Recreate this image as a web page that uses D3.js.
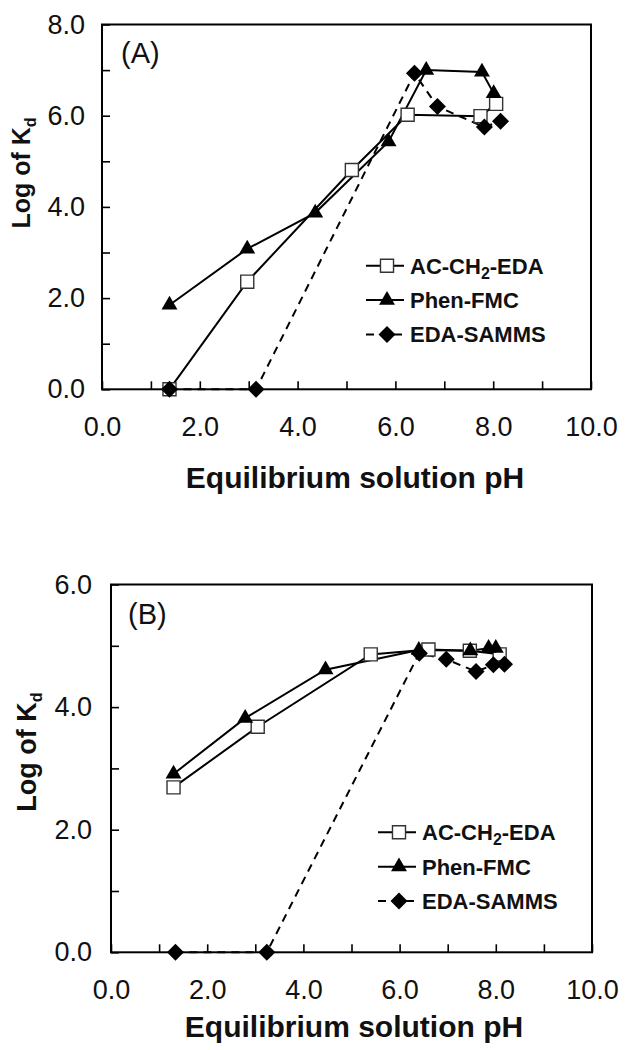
<!DOCTYPE html>
<html lang="en">
  <head>
    <meta charset="utf-8">
    <title>Log of Kd vs equilibrium pH</title>
    <script src="https://cdnjs.cloudflare.com/ajax/libs/d3/7.8.5/d3.min.js"></script>
    <style>
      body { margin: 0; background: #fff; }
      text { font-family: "Liberation Sans", Arial, sans-serif; fill: #111; }
      .title { font-weight: bold; }
    </style>
  </head>
  <body>
    <div class="chart"></div>
    <script>

      // series names (legend order)
      var seriesNames = ["AC-CH2-EDA", "Phen-FMC", "EDA-SAMMS"];

      // Panel (A)
      var acA_pH = [1.38, 2.97, 5.11, 6.25, 7.74, 8.06];
      var acA_logKd = [0.0, 2.36, 4.81, 6.02, 5.99, 6.26];
      var phenA_pH = [1.38, 2.97, 4.36, 5.86, 6.63, 7.77, 8.01];
      var phenA_logKd = [1.85, 3.08, 3.87, 5.43, 7.00, 6.96, 6.49];
      var edaA_pH = [1.38, 3.15, 6.39, 6.86, 7.82, 8.15];
      var edaA_logKd = [0.0, 0.0, 6.93, 6.20, 5.75, 5.88];

      // Panel (B)
      var acB_pH = [1.30, 3.05, 5.40, 6.60, 7.46, 8.08];
      var acB_logKd = [2.69, 3.68, 4.86, 4.94, 4.92, 4.86];
      var phenB_pH = [1.30, 2.79, 4.46, 6.40, 7.47, 7.85, 8.00];
      var phenB_logKd = [2.91, 3.82, 4.61, 4.93, 4.92, 4.96, 4.96];
      var edaB_pH = [1.34, 3.24, 6.41, 6.97, 7.59, 7.95, 8.18];
      var edaB_logKd = [0.0, 0.0, 4.88, 4.78, 4.58, 4.69, 4.70];

      // ticks
      var xTicks = [0, 1, 2, 3, 4, 5, 6, 7, 8, 9, 10];
      var yTicksA = [0, 1, 2, 3, 4, 5, 6, 7, 8];
      var yTicksB = [0, 1, 2, 3, 4, 5, 6];

      var svgWidth = 625;
      var svgHeight = 1050;

      var svg = d3.select(".chart")
        .append("svg")
        .attr("width", svgWidth)
        .attr("height", svgHeight);

      function zip(xs, ys) {
        return xs.map((x, i) => ({ x: x, y: ys[i] }));
      }

      var fmt = d3.format(".1f");

      // marker drawing: square (hollow), triangle, diamond
      function marker(sel, kind) {
        if (kind === 0) {
          sel.attr("d", d3.symbol(d3.symbolSquare, 170))
            .attr("fill", "#fff")
            .attr("stroke", "#333")
            .attr("stroke-width", 1.4);
        } else if (kind === 1) {
          sel.attr("d", d3.symbol(d3.symbolTriangle, 110))
            .attr("fill", "#000");
        } else {
          sel.attr("d", d3.symbol(d3.symbolSquare, 145))
            .attr("fill", "#000");
        }
      }

      function drawPanel(p) {
        var g = svg.append("g")
          .attr("transform", `translate(${p.left}, ${p.top})`);
        var width = p.right - p.left;
        var height = p.bottom - p.top;

        var x = d3.scaleLinear().domain([0, 10]).range([0, width]);
        var y = d3.scaleLinear().domain([0, p.yMax]).range([height, 0]);

        // axes (ticks inside, labels on even values)
        var xAxis = d3.axisBottom(x)
          .tickValues(xTicks)
          .tickSizeInner(-8)
          .tickSizeOuter(0)
          .tickPadding(28)
          .tickFormat(d => d % 2 === 0 ? fmt(d) : "");
        var yAxis = d3.axisLeft(y)
          .tickValues(p.yTicks)
          .tickSizeInner(-8)
          .tickSizeOuter(0)
          .tickPadding(p.yPad)
          .tickFormat(d => d % 2 === 0 ? fmt(d) : "");

        var gx = g.append("g")
          .attr("transform", `translate(0, ${height})`)
          .call(xAxis);
        var gy = g.append("g").call(yAxis);

        [gx, gy].forEach(a => {
          a.attr("font-size", null).attr("font-family", null);
          a.selectAll("line").attr("stroke", "#000").attr("stroke-width", 1.6);
          a.select(".domain").remove();
          a.selectAll("text").style("font-size", "27px");
        });

        // frame
        g.append("rect")
          .attr("width", width)
          .attr("height", height)
          .attr("fill", "none")
          .attr("stroke", "#000")
          .attr("stroke-width", 2);

        // series lines
        var line = d3.line().x(d => x(d.x)).y(d => y(d.y));
        p.series.forEach((s, i) => {
          g.append("path")
            .datum(s)
            .attr("d", line)
            .attr("fill", "none")
            .attr("stroke", "#000")
            .attr("stroke-width", 2)
            .attr("stroke-dasharray", i === 2 ? "8,6" : null);
        });

        // markers (diamonds drawn last, on top)
        p.series.forEach((s, i) => {
          g.selectAll(".m" + i)
            .data(s)
            .enter()
            .append("path")
            .attr("class", "m" + i)
            .attr("transform", d => `translate(${x(d.x)}, ${y(d.y)})` + (i === 2 ? " rotate(45)" : ""))
            .call(marker, i);
        });

        // panel label
        g.append("text")
          .attr("x", p.labelX - p.left)
          .attr("y", p.labelY - p.top)
          .style("font-size", "29px")
          .text(p.label);

        // legend
        var lg = g.append("g")
          .attr("transform", `translate(${p.legX - p.left}, ${p.legY - p.top})`);
        seriesNames.forEach((name, i) => {
          var row = lg.append("g").attr("transform", `translate(0, ${i * 34.4})`);
          row.append("line")
            .attr("x1", 0).attr("x2", 38)
            .attr("stroke", "#000")
            .attr("stroke-width", 2)
            .attr("stroke-dasharray", i === 2 ? "8,6" : null);
          row.append("path")
            .attr("transform", `translate(21, 0)` + (i === 2 ? " rotate(45)" : ""))
            .call(marker, i);
          var t = row.append("text")
            .attr("x", 44)
            .attr("dy", "0.36em")
            .attr("class", "title")
            .style("font-size", "22px");
          if (i === 0) {
            t.append("tspan").text("AC-CH");
            t.append("tspan").attr("dy", 5).style("font-size", "16px").text("2");
            t.append("tspan").attr("dy", -5).text("-EDA");
          } else {
            t.text(name);
          }
        });

        // axis titles
        g.append("text")
          .attr("class", "title")
          .attr("text-anchor", "middle")
          .attr("x", p.xTitleX - p.left)
          .attr("y", height + p.xTitleOff)
          .style("font-size", "30px")
          .text("Equilibrium solution pH");

        var yt = g.append("text")
          .attr("class", "title")
          .attr("text-anchor", "middle")
          .attr("transform", `translate(${p.yTitleX - p.left}, ${p.yTitleY - p.top}) rotate(-90)`)
          .style("font-size", p.yTitleSize + "px");
        yt.append("tspan").text("Log of K");
        yt.append("tspan").attr("dy", 6).style("font-size", "16px").text("d");
      }

      drawPanel({
        left: 102, right: 591, top: 24.5, bottom: 389.3,
        yMax: 8, yTicks: yTicksA, yPad: 17,
        series: [zip(acA_pH, acA_logKd), zip(phenA_pH, phenA_logKd), zip(edaA_pH, edaA_logKd)],
        label: "(A)", labelX: 121, labelY: 63,
        legX: 366, legY: 265.7,
        xTitleX: 355, xTitleOff: 99,
        yTitleX: 30, yTitleY: 173, yTitleSize: 25
      });

      drawPanel({
        left: 111, right: 592, top: 584.5, bottom: 952.3,
        yMax: 6, yTicks: yTicksB, yPad: 19,
        series: [zip(acB_pH, acB_logKd), zip(phenB_pH, phenB_logKd), zip(edaB_pH, edaB_logKd)],
        label: "(B)", labelX: 128, labelY: 624,
        legX: 378, legY: 832.3,
        xTitleX: 354, xTitleOff: 84.5,
        yTitleX: 36, yTitleY: 752, yTitleSize: 27
      });
    </script>
  </body>
</html>
